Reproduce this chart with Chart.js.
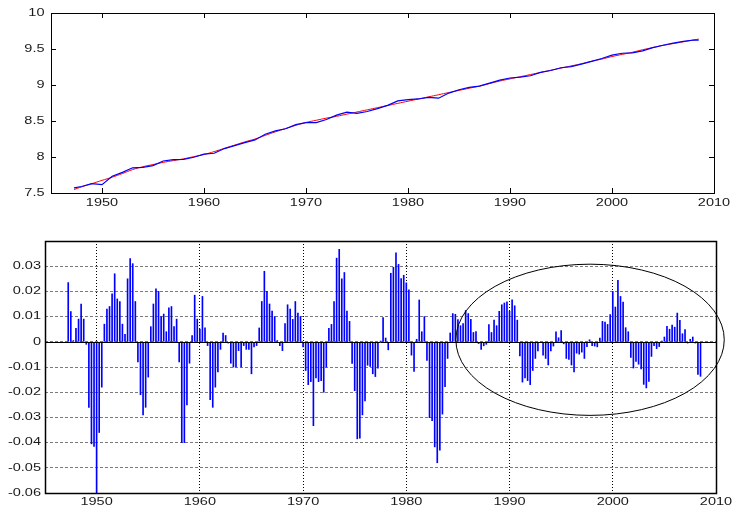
<!DOCTYPE html>
<html>
<head>
<meta charset="utf-8">
<script src="https://cdn.jsdelivr.net/npm/chart.js@4.4.1/dist/chart.umd.min.js"></script>
<style>
  body { margin: 0; background: #fff; }
  canvas { position: absolute; left: 0; }
  #top { top: 0; }
  #bottom { top: 230px; }
</style>
</head>
<body>
<canvas id="top" width="732" height="230"></canvas>
<canvas id="bottom" width="732" height="279"></canvas>
<script>
// top panel: log GDP (blue) and its HP trend (red)
var gdpYears = [1947.25, 1948, 1949, 1950, 1951, 1952, 1953, 1954, 1955, 1956, 1957, 1958, 1959,
  1960, 1961, 1962, 1963, 1964, 1965, 1966, 1967, 1968, 1969, 1970, 1971, 1972, 1973, 1974,
  1975, 1976, 1977, 1978, 1979, 1980, 1981, 1982, 1983, 1984, 1985, 1986, 1987, 1988, 1989,
  1990, 1991, 1992, 1993, 1994, 1995, 1996, 1997, 1998, 1999, 2000, 2001, 2002, 2003, 2004,
  2005, 2006, 2007, 2008, 2008.5];
var logGdp = [7.572, 7.590, 7.629, 7.615, 7.733, 7.787, 7.850, 7.857, 7.881, 7.945, 7.964, 7.967, 7.997,
  8.040, 8.052, 8.117, 8.157, 8.200, 8.237, 8.316, 8.362, 8.392, 8.449, 8.478, 8.477, 8.520, 8.581, 8.623,
  8.606, 8.632, 8.671, 8.717, 8.780, 8.798, 8.806, 8.828, 8.817, 8.888, 8.934, 8.966, 8.984, 9.027, 9.067,
  9.097, 9.109, 9.128, 9.175, 9.201, 9.240, 9.256, 9.291, 9.329, 9.368, 9.415, 9.441, 9.445, 9.473, 9.519,
  9.552, 9.581, 9.605, 9.625, 9.624];
var hpTrend = [7.548, 7.585, 7.630, 7.675, 7.720, 7.770, 7.825, 7.865, 7.895, 7.925, 7.950, 7.975, 8.005,
  8.035, 8.075, 8.120, 8.165, 8.210, 8.250, 8.300, 8.350, 8.395, 8.440, 8.480, 8.510, 8.540, 8.565, 8.595,
  8.625, 8.655, 8.685, 8.715, 8.745, 8.775, 8.805, 8.835, 8.865, 8.895, 8.925, 8.955, 8.985, 9.020, 9.055,
  9.085, 9.115, 9.145, 9.175, 9.205, 9.235, 9.265, 9.295, 9.330, 9.360, 9.395, 9.425, 9.455, 9.490, 9.520,
  9.550, 9.575, 9.600, 9.625, 9.638];

// bottom panel: quarterly cyclical component, first quarter 1947.25
var firstQuarter = 1947.25;
var cycle = [
  0.0235, 0.012, 0.0005, 0.0053, 0.009, 0.015, 0.009, -0.001, -0.026, -0.0405,
  -0.0415, -0.06, -0.036, -0.018, 0.007, 0.013, 0.014, 0.019, 0.027, 0.017,
  0.016, 0.007, 0.003, 0.025, 0.033, 0.031, 0.016, -0.008, -0.021, -0.029,
  -0.026, -0.014, 0.006, 0.015, 0.021, 0.02, 0.01, 0.011, 0.004, 0.0135,
  0.014, 0.006, 0.009, -0.008, -0.04, -0.04, -0.025, -0.0085, 0.0025, 0.0185,
  0.009, 0.005, 0.018, 0.0055, -0.0015, -0.023, -0.026, -0.018, -0.012, -0.003,
  0.0035, 0.0025, -0.0005, -0.0085, -0.01, -0.01, -0.0035, -0.01, -0.0015, -0.003,
  -0.003, -0.0127, -0.002, -0.0015, 0.0055, 0.016, 0.028, 0.02, 0.015, 0.0122,
  0.01, 0.0005, -0.0015, -0.0035, 0.0072, 0.0147, 0.013, 0.0089, 0.016, 0.0114,
  0.01, -0.002, -0.0114, -0.017, -0.0158, -0.0333, -0.0143, -0.0158, -0.0154, -0.02,
  -0.01, 0.0053, 0.0069, 0.016, 0.0332, 0.0367, 0.025, 0.0275, 0.0122, 0.0081,
  -0.0086, -0.0194, -0.0385, -0.0382, -0.029, -0.0235, -0.0093, -0.0098, -0.0127, -0.0138,
  -0.0105, 0.0003, 0.0096, 0.0015, -0.0032, 0.0272, 0.0296, 0.0353, 0.0307, 0.0251,
  0.0264, 0.0234, 0.0206, -0.0053, -0.0118, 0.001, 0.0166, 0.004, 0.01, -0.0074,
  -0.0301, -0.0313, -0.0417, -0.048, -0.043, -0.0287, -0.0178, -0.0066, 0.0035, 0.0112,
  0.0109, 0.0088, 0.0064, 0.0072, 0.0124, 0.0112, 0.0089, 0.0037, 0.0041, -0.0007,
  -0.003, -0.0016, -0.001, 0.0068, 0.0037, 0.0086, 0.0064, 0.0121, 0.0147, 0.0154,
  0.0159, 0.0121, 0.0167, 0.0143, 0.0086, -0.0056, -0.016, -0.0143, -0.0154, -0.017,
  -0.0114, -0.0066, -0.0036, -0.0003, -0.0053, -0.0066, -0.0092, -0.0036, -0.0017, 0.004,
  0.0016, 0.0045, -0.0008, -0.0066, -0.007, -0.0092, -0.012, -0.0045, -0.0049, -0.0041,
  -0.0066, -0.0019, 0.0008, -0.0015, -0.0017, -0.002, 0.0015, 0.0081, 0.0078, 0.0069,
  0.0108, 0.02, 0.0138, 0.0244, 0.018, 0.0158, 0.0056, 0.004, -0.0062, -0.0104,
  -0.0078, -0.0089, -0.0108, -0.0169, -0.0183, -0.0157, -0.0058, -0.0015, -0.0027, -0.0019,
  0.0003, 0.0019, 0.0061, 0.005, 0.0066, 0.0058, 0.0114, 0.0085, 0.0032, 0.0048,
  -0.0005, 0.001, 0.0019, -0.0005, -0.0129, -0.0137
];

// tick labels
var xTicks = [1950, 1960, 1970, 1980, 1990, 2000, 2010];
var topYTicks = [7.5, 8, 8.5, 9, 9.5, 10];
var bottomYTicks = [-0.06, -0.05, -0.04, -0.03, -0.02, -0.01, 0, 0.01, 0.02, 0.03];

var FONT = '10px "Liberation Sans", Arial, sans-serif';
var STRETCH = 1.45; // labels in the figure are wide

function setTicks(list) {
  return function(scale) { scale.ticks = list.map(function(v) { return { value: v }; }); };
}

function label(ctx, text, x, y, align) {
  ctx.save();
  ctx.translate(x, y);
  ctx.scale(STRETCH, 1);
  ctx.font = FONT;
  ctx.fillStyle = '#1a1a1a';
  ctx.textAlign = align;
  ctx.textBaseline = 'middle';
  ctx.fillText(text, 0, 0);
  ctx.restore();
}

function framePlugin(opts) {
  return {
    id: 'frame',
    afterDraw: function(chart) {
      var ctx = chart.ctx, a = chart.chartArea;
      var xs = chart.scales.x, ys = chart.scales.y;
      ctx.save();
      ctx.strokeStyle = '#000';
      ctx.lineWidth = 1;
      if (opts.baseline) {
        var y0 = Math.round(ys.getPixelForValue(0)) + 0.5;
        ctx.beginPath(); ctx.moveTo(a.left, y0); ctx.lineTo(a.right, y0); ctx.stroke();
      }
      ctx.lineWidth = opts.boxWidth || 1;
      ctx.strokeRect(Math.round(a.left) + 0.5, Math.round(a.top) + 0.5,
        Math.round(a.right - a.left), Math.round(a.bottom - a.top));
      ctx.lineWidth = 1;
      if (opts.inTicks) {
        ctx.beginPath();
        xs.ticks.forEach(function(t) {
          var px = Math.round(xs.getPixelForValue(t.value)) + 0.5;
          ctx.moveTo(px, a.bottom); ctx.lineTo(px, a.bottom - 5);
          ctx.moveTo(px, a.top); ctx.lineTo(px, a.top + 5);
        });
        ys.ticks.forEach(function(t) {
          var py = Math.round(ys.getPixelForValue(t.value)) + 0.5;
          ctx.moveTo(a.left, py); ctx.lineTo(a.left + 5, py);
          ctx.moveTo(a.right, py); ctx.lineTo(a.right - 5, py);
        });
        ctx.stroke();
      }
      if (opts.ellipse) {
        var e = opts.ellipse;
        var cx = xs.getPixelForValue(e.x), cy = ys.getPixelForValue(e.y);
        var rx = xs.getPixelForValue(e.x + e.rx) - cx;
        var ry = cy - ys.getPixelForValue(e.y + e.ry);
        ctx.beginPath();
        ctx.ellipse(cx, cy, rx, ry, 0, 0, Math.PI * 2);
        ctx.stroke();
      }
      ctx.restore();
      xs.ticks.forEach(function(t) {
        label(ctx, String(t.value), xs.getPixelForValue(t.value), a.bottom + opts.xLabelGap, 'center');
      });
      ys.ticks.forEach(function(t) {
        label(ctx, String(t.value), a.left - opts.yLabelGap, ys.getPixelForValue(t.value), 'right');
      });
    }
  };
}

new Chart(document.getElementById('top'), {
  type: 'line',
  data: {
    datasets: [{
      label: 'log GDP',
      data: gdpYears.map(function(x, i) { return { x: x, y: logGdp[i] }; }),
      borderColor: '#0000ff',
      borderWidth: 1.2,
      pointRadius: 0,
      tension: 0
    }, {
      label: 'HP trend',
      data: gdpYears.map(function(x, i) { return { x: x, y: hpTrend[i] }; }),
      borderColor: '#ff0000',
      borderWidth: 1,
      pointRadius: 0,
      tension: 0.4
    }]
  },
  options: {
    responsive: false,
    animation: false,
    devicePixelRatio: 1,
    layout: { padding: { left: 43, right: 18, top: 13, bottom: 29 } },
    plugins: { legend: { display: false }, tooltip: { enabled: false } },
    scales: {
      x: {
        type: 'linear', min: 1945, max: 2010,
        afterBuildTicks: setTicks(xTicks),
        ticks: { display: false },
        grid: { display: false },
        border: { display: false }
      },
      y: {
        type: 'linear', min: 7.5, max: 10,
        afterBuildTicks: setTicks(topYTicks),
        ticks: { display: false },
        grid: { display: false },
        border: { display: false }
      }
    }
  },
  plugins: [framePlugin({ inTicks: true, xLabelGap: 10, yLabelGap: 6.5 })]
});

new Chart(document.getElementById('bottom'), {
  type: 'bar',
  data: {
    datasets: [{
      label: 'cycle',
      data: cycle.map(function(v, i) { return { x: firstQuarter + i * 0.25, y: v }; }),
      backgroundColor: '#0000ff',
      borderWidth: 0,
      barThickness: 1
    }]
  },
  options: {
    responsive: false,
    animation: false,
    devicePixelRatio: 1,
    layout: { padding: { left: 45, right: 16, top: 11, bottom: 16 } },
    plugins: { legend: { display: false }, tooltip: { enabled: false } },
    scales: {
      x: {
        type: 'linear', min: 1945, max: 2010, offset: false,
        afterBuildTicks: setTicks(xTicks),
        ticks: { display: false },
        grid: { color: '#000', lineWidth: 1, drawTicks: false, offset: false },
        border: { display: false, dash: [1, 2] }
      },
      y: {
        type: 'linear', min: -0.06, max: 0.04,
        afterBuildTicks: setTicks(bottomYTicks),
        ticks: { display: false },
        grid: { color: '#7a7a7a', lineWidth: 1, drawTicks: false },
        border: { display: false, dash: [3, 2] }
      }
    }
  },
  plugins: [framePlugin({
    baseline: true, boxWidth: 1.5, xLabelGap: 9.5, yLabelGap: 4,
    ellipse: { x: 1997.8, y: 0.0008, rx: 13, ry: 0.030 }
  })]
});
</script>
</body>
</html>
